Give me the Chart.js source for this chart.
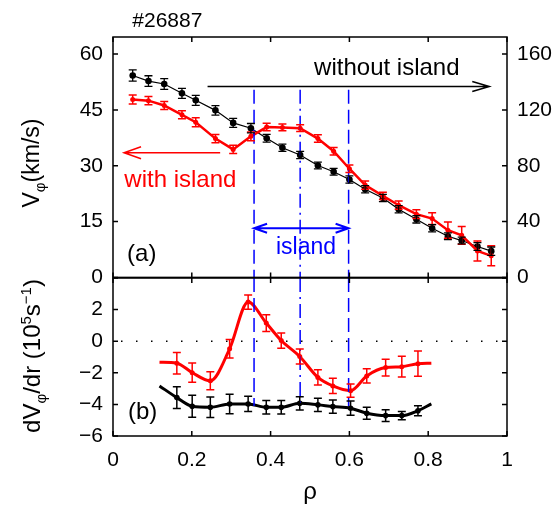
<!DOCTYPE html>
<html>
<head>
<meta charset="utf-8">
<script src="https://cdn.jsdelivr.net/npm/chart.js@4.4.1/dist/chart.umd.min.js"></script>
<style>
  body { margin: 0; background: #fff; }
  #wrap { position: relative; width: 556px; height: 508px; background: #fff; overflow: hidden;
          font-family: 'Liberation Sans', Arial, Helvetica, sans-serif; color: #000; }
  canvas { position: absolute; left: 0; }
  #topChart { top: 0; }
  #botChart { top: 250px; }
  .ytitle { position: absolute; white-space: nowrap; font-size: 23px; line-height: 1;
            transform: translate(-50%, -50%) rotate(-90deg); }
  .ytitle sub { font-size: 15px; vertical-align: -6px; }
  .ytitle sup { font-size: 15px; vertical-align: 9px; }
</style>
</head>
<body>
<div id="wrap">
  <canvas id="topChart" width="556" height="300"></canvas>
  <canvas id="botChart" width="556" height="258"></canvas>
  <div class="ytitle" style="left:33px; top:163px;">V<sub>φ</sub>(km/s)</div>
  <div class="ytitle" style="left:33px; top:356px; font-size:24px;">dV<sub>φ</sub>/dr (10<sup>5</sup>s<sup>−1</sup>)</div>
</div>
<script>
// ticks
const xTicks = [0, 0.2, 0.4, 0.6, 0.8, 1];
const vLeftTicks = [0, 15, 30, 45, 60];
const vRightTicks = [0, 40, 80, 120, 160];
const gradTicks = [-6, -4, -2, 0, 2, 4];

// (a) toroidal rotation, red on left axis (km/s), black on right axis
const rho = [0.05, 0.09, 0.13, 0.175, 0.21, 0.26, 0.305, 0.35, 0.39, 0.43, 0.475, 0.52,
             0.56, 0.6, 0.64, 0.685, 0.725, 0.77, 0.81, 0.85, 0.885, 0.925, 0.96];
const vWithIsland = [47.8, 47.5, 46.2, 43.7, 41.7, 37.3, 34.4, 37.9, 40.4, 40.3, 40.1, 37.3,
                     33.9, 29.2, 24.8, 21.9, 19.4, 17.0, 15.8, 12.7, 11.3, 7.1, 5.8];
const vWithIslandErr = [1.2, 1.1, 1.1, 1.1, 1.2, 1.1, 1.1, 1.2, 1.0, 0.9, 0.9, 1.0,
                        1.0, 1.0, 1.1, 1.0, 1.1, 1.2, 1.6, 2.2, 2.4, 2.7, 2.7];
const vWithoutIsland = [144.7, 140.7, 138.6, 131.9, 126.9, 119.7, 110.7, 106.9, 99.7, 92.9, 87.7, 80.2,
                        75.7, 70.2, 63.1, 56.9, 48.8, 41.6, 35.2, 29.5, 26.4, 22.1, 18.8];
const vWithoutIslandErr = [4.0, 3.8, 3.8, 3.6, 3.6, 3.4, 3.2, 3.4, 2.8, 2.6, 2.6, 2.4,
                           2.4, 2.6, 2.6, 2.6, 2.6, 2.6, 2.6, 2.4, 2.4, 2.8, 3.0];

// (b) rotation shear; first and last entries are curve ends without a marker
const rhoGrad = [0.118, 0.162, 0.201, 0.247, 0.296, 0.343, 0.389, 0.427, 0.474, 0.52,
                 0.558, 0.603, 0.644, 0.692, 0.733, 0.774, 0.808];
const gradWithIsland = [-1.33, -1.39, -1.99, -2.51, -0.48, 2.48, 1.15, 0.04, -0.97, -2.29,
                        -2.83, -3.13, -2.20, -1.67, -1.61, -1.42, -1.39];
const gradWithIslandErr = [null, 0.68, 0.61, 0.57, 0.58, 0.45, 0.53, 0.48, 0.48, 0.48,
                           0.48, 0.42, 0.45, 0.53, 0.65, 0.8, null];
const gradWithoutIsland = [-2.83, -3.57, -4.12, -4.18, -3.97, -3.97, -4.18, -4.18, -3.93, -4.03,
                           -4.14, -4.24, -4.56, -4.71, -4.71, -4.40, -3.97];
const gradWithoutIslandErr = [null, 0.69, 0.7, 0.65, 0.62, 0.48, 0.42, 0.42, 0.42, 0.42,
                              0.42, 0.45, 0.38, 0.37, 0.26, 0.32, null];

// island boundaries and O-point
const islandEdges = [0.358, 0.598];
const islandCentre = 0.475;

const RED = '#ff0000';
const BLUE = '#0000ff';
const FONT = "'Liberation Sans', Arial, Helvetica, sans-serif";
Chart.defaults.font.family = FONT;
Chart.defaults.color = '#000';

const vLeftMax = 64.6;
const vRightMax = vLeftMax * 8 / 3;

function toPoints(xs, ys) {
    return xs.map((x, i) => ({ x: x, y: ys[i] }));
}

function fmtNum(v) {
    return v < 0 ? '\u2212' + Math.abs(v) : String(v);
}

// frame with inward ticks
const framePlugin = {
    id: 'frame',
    afterDraw(chart, args, opts) {
        const { ctx, chartArea: a, scales } = chart;
        const len = 5;
        ctx.save();
        ctx.strokeStyle = '#000';
        ctx.lineWidth = 1.5;
        ctx.strokeRect(a.left, a.top, a.right - a.left, a.bottom - a.top);
        ctx.beginPath();
        xTicks.forEach(v => {
            const px = scales.x.getPixelForValue(v);
            ctx.moveTo(px, a.top); ctx.lineTo(px, a.top + len);
            ctx.moveTo(px, a.bottom); ctx.lineTo(px, a.bottom - len);
        });
        opts.left.forEach(v => {
            const py = scales.y.getPixelForValue(v);
            ctx.moveTo(a.left, py); ctx.lineTo(a.left + len, py);
        });
        const rs = scales[opts.rightScale];
        opts.right.forEach(v => {
            const py = rs.getPixelForValue(v);
            ctx.moveTo(a.right, py); ctx.lineTo(a.right - len, py);
        });
        ctx.stroke();
        ctx.restore();
    }
};

// vertical error bars drawn through the dataset's own y scale
const errorBarPlugin = {
    id: 'errorBars',
    afterDatasetsDraw(chart) {
        const ctx = chart.ctx;
        chart.data.datasets.forEach((ds, i) => {
            if (!ds.errors) return;
            const meta = chart.getDatasetMeta(i);
            const ys = chart.scales[meta.yAxisID];
            const cap = ds.capSize;
            ctx.save();
            ctx.strokeStyle = ds.borderColor;
            ctx.lineWidth = ds.errorWidth;
            ctx.beginPath();
            meta.data.forEach((pt, j) => {
                const e = ds.errors[j];
                if (e == null) return;
                const v = ds.data[j].y;
                const y1 = ys.getPixelForValue(v - e);
                const y2 = ys.getPixelForValue(v + e);
                ctx.moveTo(pt.x, y1); ctx.lineTo(pt.x, y2);
                ctx.moveTo(pt.x - cap, y1); ctx.lineTo(pt.x + cap, y1);
                ctx.moveTo(pt.x - cap, y2); ctx.lineTo(pt.x + cap, y2);
            });
            ctx.stroke();
            ctx.restore();
        });
    }
};

// island boundaries (dashed) and centre (dash-dot)
const islandPlugin = {
    id: 'island',
    afterDatasetsDraw(chart, args, opts) {
        const { ctx, scales } = chart;
        const ys = scales.y;
        const y1 = ys.getPixelForValue(opts.from);
        const y2 = ys.getPixelForValue(opts.to);
        ctx.save();
        ctx.strokeStyle = BLUE;
        ctx.lineWidth = 1.5;
        ctx.setLineDash([14, 6]);
        islandEdges.forEach(v => {
            const px = scales.x.getPixelForValue(v);
            ctx.beginPath(); ctx.moveTo(px, y1); ctx.lineTo(px, y2); ctx.stroke();
        });
        ctx.setLineDash([14, 5, 2, 5]);
        const pc = scales.x.getPixelForValue(islandCentre);
        ctx.beginPath(); ctx.moveTo(pc, y1); ctx.lineTo(pc, y2); ctx.stroke();
        ctx.restore();
    }
};

function arrowHead(ctx, x, y, dir, len, half) {
    ctx.moveTo(x - dir * len, y - half);
    ctx.lineTo(x, y);
    ctx.lineTo(x - dir * len, y + half);
}

// labels and arrows of panel (a)
const notesTopPlugin = {
    id: 'notesTop',
    afterDraw(chart) {
        const { ctx, scales, chartArea } = chart;
        const X = v => scales.x.getPixelForValue(v);
        const Y = v => scales.y.getPixelForValue(v);
        ctx.save();
        ctx.textAlign = 'center';
        ctx.textBaseline = 'middle';

        ctx.fillStyle = '#000';
        ctx.font = '21px ' + FONT;
        ctx.fillText('#26887', X(0.138), chartArea.top - 16);

        // without island
        ctx.strokeStyle = '#000';
        ctx.lineWidth = 1.5;
        ctx.beginPath();
        ctx.moveTo(X(0.24), Y(51.3)); ctx.lineTo(X(0.955), Y(51.3));
        arrowHead(ctx, X(0.955), Y(51.3), 1, 17, 5);
        ctx.stroke();
        ctx.font = '24px ' + FONT;
        ctx.fillText('without island', X(0.695), Y(56.3));

        // with island
        ctx.strokeStyle = RED;
        ctx.fillStyle = RED;
        ctx.beginPath();
        ctx.moveTo(X(0.272), Y(33.5)); ctx.lineTo(X(0.028), Y(33.5));
        arrowHead(ctx, X(0.028), Y(33.5), -1, 17, 6);
        ctx.stroke();
        ctx.fillText('with island', X(0.171), Y(26.1));

        // island width
        ctx.strokeStyle = BLUE;
        ctx.fillStyle = BLUE;
        ctx.lineWidth = 2;
        ctx.beginPath();
        ctx.moveTo(X(islandEdges[0]), Y(13.2)); ctx.lineTo(X(islandEdges[1]), Y(13.2));
        arrowHead(ctx, X(islandEdges[0]), Y(13.2), -1, 13, 4.5);
        arrowHead(ctx, X(islandEdges[1]), Y(13.2), 1, 13, 4.5);
        ctx.stroke();
        ctx.font = '23px ' + FONT;
        ctx.fillText('island', X(0.49), Y(8.1));

        ctx.fillStyle = '#000';
        ctx.font = '24px ' + FONT;
        ctx.fillText('(a)', X(0.073), Y(6.2));
        ctx.restore();
    }
};

// zero line and panel label of (b)
const notesBotPlugin = {
    id: 'notesBot',
    beforeDatasetsDraw(chart) {
        const { ctx, scales, chartArea: a } = chart;
        const y0 = scales.y.getPixelForValue(0);
        ctx.save();
        ctx.strokeStyle = '#000';
        ctx.lineWidth = 1.5;
        ctx.setLineDash([1.5, 13.5]);
        ctx.beginPath(); ctx.moveTo(a.left + 8, y0); ctx.lineTo(a.right, y0); ctx.stroke();
        ctx.restore();
    },
    afterDraw(chart) {
        const { ctx, scales } = chart;
        ctx.save();
        ctx.fillStyle = '#000';
        ctx.font = '24px ' + FONT;
        ctx.textAlign = 'center';
        ctx.textBaseline = 'middle';
        ctx.fillText('(b)', scales.x.getPixelForValue(0.075), scales.y.getPixelForValue(-4.5));
        ctx.restore();
    }
};

const tickFont = { size: 21, family: FONT };
const hiddenGrid = { display: false, drawTicks: false, tickLength: 0 };

const topChart = new Chart(document.getElementById('topChart').getContext('2d'), {
    type: 'line',
    data: {
        datasets: [{
            label: 'with island',
            data: toPoints(rho, vWithIsland),
            yAxisID: 'y',
            borderColor: RED,
            backgroundColor: RED,
            borderWidth: 2.5,
            pointRadius: 2.5,
            pointBorderWidth: 0,
            errors: vWithIslandErr,
            errorWidth: 1.5,
            capSize: 4
        }, {
            label: 'without island',
            data: toPoints(rho, vWithoutIsland),
            yAxisID: 'yR',
            borderColor: '#000',
            backgroundColor: '#000',
            borderWidth: 1.2,
            pointRadius: 3.3,
            pointBorderWidth: 0,
            errors: vWithoutIslandErr,
            errorWidth: 1.3,
            capSize: 4
        }]
    },
    options: {
        responsive: false,
        animation: false,
        layout: { padding: { top: 37, bottom: 22, left: 0, right: 0 } },
        plugins: {
            legend: { display: false },
            tooltip: { enabled: false },
            frame: { left: vLeftTicks, right: vRightTicks, rightScale: 'yR' },
            island: { from: 50.4, to: 0 }
        },
        scales: {
            x: { type: 'linear', min: 0, max: 1, display: false },
            y: {
                position: 'left', min: 0, max: vLeftMax,
                afterBuildTicks: s => { s.ticks = vLeftTicks.map(v => ({ value: v })); },
                afterFit: s => { s.width = 113; },
                grid: hiddenGrid, border: { display: false },
                ticks: { font: tickFont, padding: 10, color: '#000' }
            },
            yR: {
                position: 'right', min: 0, max: vRightMax,
                afterBuildTicks: s => { s.ticks = vRightTicks.map(v => ({ value: v })); },
                afterFit: s => { s.width = 49; },
                grid: hiddenGrid, border: { display: false },
                ticks: { font: tickFont, padding: 10, color: '#000' }
            }
        }
    },
    plugins: [islandPlugin, errorBarPlugin, framePlugin, notesTopPlugin]
});

const botChart = new Chart(document.getElementById('botChart').getContext('2d'), {
    type: 'line',
    data: {
        datasets: [{
            label: 'with island',
            data: toPoints(rhoGrad, gradWithIsland),
            borderColor: RED,
            backgroundColor: RED,
            borderWidth: 3,
            cubicInterpolationMode: 'monotone',
            pointRadius: gradWithIslandErr.map(e => e == null ? 0 : 2.5),
            pointBorderWidth: 0,
            errors: gradWithIslandErr,
            errorWidth: 1.5,
            capSize: 4
        }, {
            label: 'without island',
            data: toPoints(rhoGrad, gradWithoutIsland),
            borderColor: '#000',
            backgroundColor: '#000',
            borderWidth: 3,
            cubicInterpolationMode: 'monotone',
            pointRadius: gradWithoutIslandErr.map(e => e == null ? 0 : 2.8),
            pointBorderWidth: 0,
            errors: gradWithoutIslandErr,
            errorWidth: 1.5,
            capSize: 4
        }]
    },
    options: {
        responsive: false,
        animation: false,
        layout: { padding: { top: 28, bottom: 0, left: 0, right: 49 } },
        plugins: {
            legend: { display: false },
            tooltip: { enabled: false },
            frame: { left: gradTicks, right: gradTicks, rightScale: 'y' },
            island: { from: 4, to: -4.1 }
        },
        scales: {
            x: {
                type: 'linear', min: 0, max: 1,
                afterBuildTicks: s => { s.ticks = xTicks.map(v => ({ value: v })); },
                afterFit: s => { s.height = 72; },
                grid: hiddenGrid, border: { display: false },
                ticks: { font: tickFont, padding: 12, color: '#000', maxRotation: 0,
                         callback: v => String(v) },
                title: { display: true, text: 'ρ', font: { size: 24, family: FONT },
                         color: '#000', padding: { top: 0, bottom: 1 } }
            },
            y: {
                position: 'left', min: -6, max: 4,
                afterBuildTicks: s => { s.ticks = gradTicks.map(v => ({ value: v })); },
                afterFit: s => { s.width = 113; },
                grid: hiddenGrid, border: { display: false },
                ticks: { font: tickFont, padding: 10, color: '#000',
                         callback: v => v === 4 ? '' : fmtNum(v) }
            }
        }
    },
    plugins: [islandPlugin, notesBotPlugin, errorBarPlugin, framePlugin]
});
</script>
</body>
</html>
